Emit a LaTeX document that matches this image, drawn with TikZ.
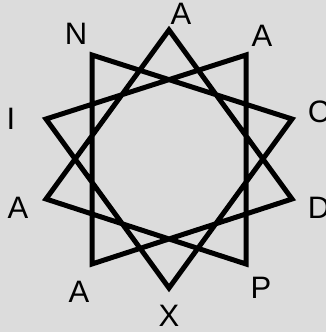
\documentclass[tikz,border=0pt]{standalone}
\usepackage{fontspec}
\setmainfont{Liberation Sans}
\usepackage{tikz}

\definecolor{bggray}{RGB}{220,220,220}

\begin{document}
\begin{tikzpicture}[x=1pt, y=-1pt]

% background
\fill[bggray] (0,0) rectangle (326,332);
\useasboundingbox (0,0) rectangle (326,332);

% star vertices
\coordinate (v0) at (169,30);
\coordinate (v1) at (246,55);
\coordinate (v2) at (292,119);
\coordinate (v3) at (292,199);
\coordinate (v4) at (246,264);
\coordinate (v5) at (169,288);
\coordinate (v6) at (92,264);
\coordinate (v7) at (46,199);
\coordinate (v8) at (46,119);
\coordinate (v9) at (92,55);

\draw[line width=5pt, miter limit=10] (v0) -- (v3) -- (v6) -- (v9) -- (v2) -- (v5)
  -- (v8) -- (v1) -- (v4) -- (v7) -- cycle;

% letters
\tikzset{letter/.style={inner sep=0pt, font=\fontsize{31}{32}\selectfont}}
\node[letter] (l0) at (181,14) {A};
\node[letter] (l1) at (262,36) {A};
\node[letter] (l2) at (319,112) {C};
\node[letter] (l3) at (319,208) {D};
\node[letter] (l4) at (261,288) {P};
\node[letter] (l5) at (169,316) {X};
\node[letter] (l6) at (79,292) {A};
\node[letter] (l7) at (18,208) {A};
\node[letter] (l8) at (11,119) {I};
\node[letter] (l9) at (76,34) {N};
\end{tikzpicture}
\end{document}
